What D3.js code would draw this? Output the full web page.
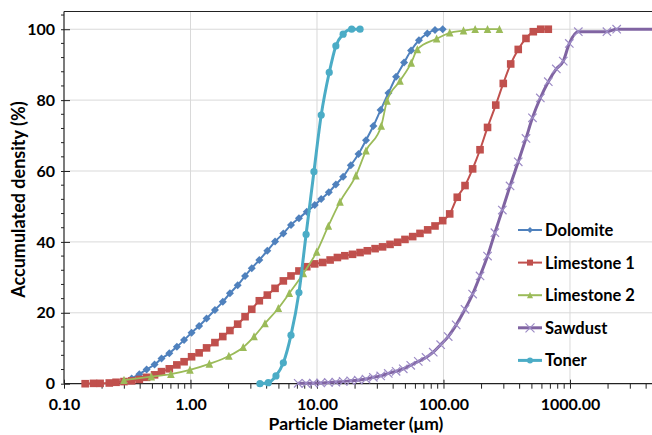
<!DOCTYPE html>
<html><head><meta charset="utf-8">
<script src="https://cdn.jsdelivr.net/npm/d3@7"></script>
<style>
html,body{margin:0;padding:0;background:#fff;}
text{font-family:Lato,"Open Sans",sans-serif;font-weight:bold;fill:#000;}
</style></head>
<body><svg id="chart" width="652" height="435"></svg>
<script>
// ---- data ----
const seriesNames = ["Dolomite","Limestone 1","Limestone 2","Sawdust","Toner"];
const colors = ["#4F81BD","#C0504D","#9BBB59","#8064A2","#4BACC6"];

const dolomiteX = [0.298,0.343,0.394,0.45,0.52,0.59,0.68,0.78,0.89,1.02,1.17,1.34,1.56,1.80,2.05,2.36,2.70,3.05,3.50,4.05,4.66,5.42,6.23,7.2,8.3,9.6,10.8,12.4,14.1,16.1,18.5,21.3,24.4,27.9,31.8,36.7,42.2,48.8,55.4,64,74.5,85.7,98.6];
const dolomiteY = [0.7,1.5,2.7,4.0,5.4,7.1,8.6,10.4,12.3,14.4,16.3,18.4,20.8,23.1,25.5,27.8,30.4,32.6,34.9,37.5,40.1,42.4,44.8,46.7,48.5,50.4,52.1,54.0,56.2,58.4,61.6,64.8,68.7,72.7,77.2,82.0,86.6,90.6,94.0,96.9,98.8,99.8,100];

const limestone1X = [0.147,0.171,0.193,0.228,0.258,0.298,0.343,0.394,0.45,0.52,0.59,0.68,0.78,0.89,1.02,1.17,1.34,1.56,1.80,2.05,2.36,2.70,3.05,3.50,4.05,4.66,5.42,6.23,7.2,8.3,9.6,11.1,12.7,14.5,16.6,19.1,21.9,25.0,28.8,33.0,37.8,43.4,49.6,57.1,65.2,75.0,85.7,98.6,112,128.5,148,170,194.5,223,259,297,340,390,449,513,587,674];
const limestone1Y = [0,0.1,0.1,0.2,0.4,0.6,0.8,1.2,1.8,2.5,3.4,4.2,5.3,6.2,7.6,8.7,10.1,11.6,13.3,15.0,16.8,18.9,21.0,23.4,25.0,26.9,29.0,30.4,31.8,33.0,33.8,34.2,34.9,35.6,36.1,36.5,37.0,37.5,38.1,38.6,39.3,39.9,40.7,41.5,42.4,43.4,44.5,46.0,47.9,52.6,55.9,60.6,66.0,72.3,78.6,84.7,90.2,94.3,97.4,99.3,100,100];

const limestone2X = [0.298,0.49,0.70,0.99,1.41,2.01,2.61,3.18,3.88,4.95,6.04,7.8,9.95,12.3,15.2,20.3,24.4,32.2,35.8,45.3,55.6,62.1,88.3,112,144,178,223,277];
const limestone2Y = [1.0,2.0,2.7,3.9,5.6,7.8,10.3,13.3,17.0,21.3,25.5,31.1,37.2,44.5,51.3,58.7,65.7,72.7,79.8,85.4,90.5,94.3,97.3,99.0,99.6,100,100,100];

const sawdustX = [7.1,8.2,9.35,10.7,12.3,14.1,16.1,18.5,21.2,24.4,27.9,31.9,36.6,42.2,48.1,55.1,63.2,72.8,83,95,109,126,148,170,194.5,223,255,292,336,390,449,505,583,674,780,885,988,1164,1960,2340,5000];
const sawdustY = [0.1,0.1,0.15,0.2,0.35,0.45,0.65,0.8,1.0,1.3,1.8,2.2,2.9,3.5,4.2,5.2,6.3,7.4,8.9,11.0,13.3,16.6,21.0,25.3,30.4,36.0,42.6,49.0,55.8,62.6,69.2,75.0,80.6,85.2,88.8,91.0,96.0,99.3,99.3,100,100];

const tonerX = [3.54,4.12,4.74,5.42,6.23,7.2,8.2,9.46,10.8,12.5,14.1,16.1,18.8,21.9];
const tonerY = [0,0.3,2.2,5.9,13.7,25.7,42.1,59.8,75.8,87.8,95.3,98.6,100,100];

const xTickValues = [0.1,1,10,100,1000];
const xTickLabels = ["0.10","1.00","10.00","100.00","1000.00"];
const yTickValues = [0,20,40,60,80,100];
const xTitle = "Particle Diameter (μm)";
const yTitle = "Accumulated density (%)";

// ---- layout ----
const svg = d3.select("#chart");
const pLeft = 64, pTop = 11.5, pBottom = 383.7, pRight = 652.6;
const x = d3.scaleLog().domain([0.1, 4500]).range([pLeft, pRight]);
const y = d3.scaleLinear().domain([0, 105]).range([pBottom, pTop]);

const series = [
  {xs: dolomiteX, ys: dolomiteY, marker: "diamond", w: 2},
  {xs: limestone1X, ys: limestone1Y, marker: "square", w: 2},
  {xs: limestone2X, ys: limestone2Y, marker: "triangle", w: 1.8},
  {xs: sawdustX, ys: sawdustY, marker: "cross", w: 3},
  {xs: tonerX, ys: tonerY, marker: "circle", w: 3}
].map((s,i)=>Object.assign(s,{name: seriesNames[i], color: colors[i], pts: s.xs.map((v,j)=>[v, s.ys[j]])}));

svg.append("defs").append("clipPath").attr("id","clip")
  .append("rect").attr("x", pLeft-6).attr("y", pTop-6).attr("width", 652-pLeft+6).attr("height", pBottom-pTop+12);

// gridlines
const grid = svg.append("g");
grid.selectAll(".gx").data(xTickValues.slice(1)).join("line")
  .attr("x1", d=>x(d)).attr("x2", d=>x(d)).attr("y1", pTop).attr("y2", pBottom)
  .attr("stroke","#d9d9d9").attr("stroke-width",1);
grid.selectAll(".gy").data(yTickValues.slice(1)).join("line")
  .attr("x1", pLeft).attr("x2", 652).attr("y1", d=>y(d)).attr("y2", d=>y(d))
  .attr("stroke","#d9d9d9").attr("stroke-width",1);

// top border
svg.append("line").attr("x1", pLeft).attr("x2", 652).attr("y1", pTop).attr("y2", pTop)
  .attr("stroke","#222").attr("stroke-width",1.2);

// x axis
const minorX = [];
xTickValues.forEach(d=>{ for(let k=2;k<=9;k++){ const v=d*k; if(v<=4500) minorX.push(v);} });
const xAxis = d3.axisBottom(x).tickValues(xTickValues).tickFormat((d,i)=>xTickLabels[i]).tickSize(5).tickPadding(10);
const gx = svg.append("g").attr("transform",`translate(0,${pBottom})`).call(xAxis);
gx.select(".domain").attr("stroke","#222").attr("stroke-width",1.2).attr("d",`M${pLeft},0H652`);
gx.selectAll(".tick line").attr("y1",-4).attr("y2",5).attr("stroke","#222");
gx.selectAll(".tick text").style("font-size","16px").attr("fill","#000");
gx.selectAll(".minor").data(minorX).join("line").attr("class","minor")
  .attr("x1", d=>x(d)).attr("x2", d=>x(d)).attr("y1",0).attr("y2",5).attr("stroke","#222");

// y axis
const minorY = d3.range(0, 105, 4);
const yAxis = d3.axisLeft(y).tickValues(yTickValues).tickSize(3).tickPadding(6);
const gy = svg.append("g").attr("transform",`translate(${pLeft},0)`).call(yAxis);
gy.select(".domain").attr("stroke","#222").attr("stroke-width",1.2).attr("d",`M0,${pTop}V${pBottom}`);
gy.selectAll(".tick line").attr("x1",-3).attr("x2",6).attr("stroke","#222");
gy.selectAll(".tick text").style("font-size","16px").attr("fill","#000");
gy.selectAll(".minor").data(minorY.filter(v=>v%20!==0)).join("line").attr("class","minor")
  .attr("x1",-3).attr("x2",0).attr("y1",d=>y(d)).attr("y2",d=>y(d)).attr("stroke","#222");

// titles
svg.append("text").attr("x", 356).attr("y", 430).attr("text-anchor","middle")
  .style("font-size","17.5px").text(xTitle);
svg.append("text").attr("transform",`translate(19,${(pTop+pBottom)/2 + 2}) rotate(-90)`)
  .attr("text-anchor","middle").attr("dy","0.35em").style("font-size","18px").text(yTitle);

// markers
function drawMarker(g, type, color, size){
  const s = size;
  if(type==="diamond") g.append("path").attr("d",`M0,${-s}L${s},0L0,${s}L${-s},0Z`).attr("fill",color);
  else if(type==="square") g.append("rect").attr("x",-s).attr("y",-s).attr("width",2*s).attr("height",2*s).attr("fill",color);
  else if(type==="triangle") g.append("path").attr("d",`M0,${-s-0.5}L${s},${s}L${-s},${s}Z`).attr("fill",color);
  else if(type==="circle") g.append("circle").attr("r",s).attr("fill",color);
  else if(type==="cross") g.append("path").attr("d",`M${-s},${-s}L${s},${s}M${-s},${s}L${s},${-s}`).attr("stroke","#9d8cc6").attr("stroke-width",1.2).attr("fill","none");
}
const msize = {diamond:4, square:3.8, triangle:3.8, circle:3.6, cross:4.2};

const plot = svg.append("g").attr("clip-path","url(#clip)");
const line = d3.line().x(d=>x(d[0])).y(d=>y(d[1])).curve(d3.curveMonotoneX);

series.forEach(s=>{
  const g = plot.append("g");
  g.append("path").datum(s.pts).attr("d", line).attr("fill","none")
    .attr("stroke", s.color).attr("stroke-width", s.w).attr("stroke-linejoin","round");
  s.pts.forEach(p=>{
    const m = g.append("g").attr("transform",`translate(${x(p[0])},${y(p[1])})`);
    drawMarker(m, s.marker, s.color, msize[s.marker]);
  });
});

// legend
const legY0 = 230, legStep = 32.6;
const leg = svg.append("g");
series.forEach((s,i)=>{
  const ly = legY0 + i*legStep;
  leg.append("line").attr("x1",518).attr("x2",542).attr("y1",ly).attr("y2",ly)
    .attr("stroke", s.color).attr("stroke-width", s.w>2.5?3:2);
  const m = leg.append("g").attr("transform",`translate(530,${ly})`);
  drawMarker(m, s.marker, s.color, s.marker==="cross"?4.5:3);
  leg.append("text").attr("x",545).attr("y",ly).attr("dy","0.36em").style("font-size","16.5px").text(s.name);
});
</script></body></html>
